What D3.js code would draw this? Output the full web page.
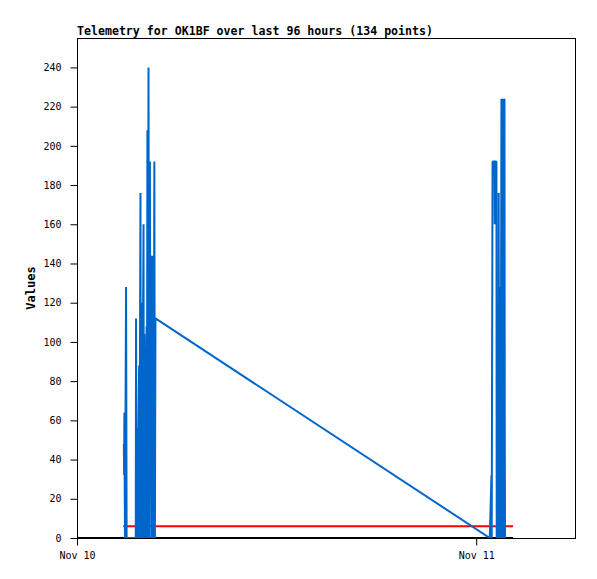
<!DOCTYPE html>
<html>
<head>
<meta charset="utf-8">
<script src="https://cdn.jsdelivr.net/npm/d3@7"></script>
<style>
body{margin:0;background:#fff;}
text{font-family:"DejaVu Sans Mono",monospace;}
</style>
</head>
<body>
<div id="plot"></div>
<script>
// telemetry samples, blue series (time, value)
var blueTimes = [
 "2023-11-10T02:49","2023-11-10T02:50","2023-11-10T02:51","2023-11-10T02:53","2023-11-10T02:57","2023-11-10T02:59",
 "2023-11-10T03:32","2023-11-10T03:33","2023-11-10T03:35","2023-11-10T03:37","2023-11-10T03:38","2023-11-10T03:44",
 "2023-11-10T03:45","2023-11-10T03:49","2023-11-10T03:50","2023-11-10T03:52","2023-11-10T03:54","2023-11-10T04:00",
 "2023-11-10T04:01","2023-11-10T04:03","2023-11-10T04:05","2023-11-10T04:11","2023-11-10T04:12","2023-11-10T04:14",
 "2023-11-10T04:15","2023-11-10T04:18","2023-11-10T04:20","2023-11-10T04:23","2023-11-10T04:25","2023-11-10T04:26",
 "2023-11-10T04:28","2023-11-10T04:31","2023-11-10T04:32","2023-11-10T04:34","2023-11-10T04:36","2023-11-10T04:39",
 "2023-11-10T04:41","2023-11-10T04:43",
 "2023-11-11T00:49","2023-11-11T00:55","2023-11-11T00:56","2023-11-11T00:59","2023-11-11T01:06","2023-11-11T01:07",
 "2023-11-11T01:08","2023-11-11T01:13","2023-11-11T01:14","2023-11-11T01:20","2023-11-11T01:21","2023-11-11T01:23",
 "2023-11-11T01:26","2023-11-11T01:28","2023-11-11T01:31","2023-11-11T01:32","2023-11-11T01:34","2023-11-11T01:36",
 "2023-11-11T01:38","2023-11-11T01:39","2023-11-11T01:42","2023-11-11T01:43","2023-11-11T01:44"
];
var blueValues = [
 48,32,64,0,128,0,
 0,112,0,56,0,88,
 0,176,0,120,0,160,
 0,104,0,108,0,208,
 0,240,0,192,48,132,
 0,144,0,108,0,192,
 0,112,
 0,32,0,192,192,160,
 192,192,0,0,176,0,
 128,0,224,0,224,0,
 224,0,224,56,0
];
// red series (constant level)
var redTimes = ["2023-11-10T02:47","2023-11-11T02:13"];
var redValues = [6,6];
// black series (zero level)
var blackTimes = ["2023-11-10T00:00","2023-11-11T02:13"];
var blackValues = [0,0];

var xTicks = ["2023-11-10T00:00","2023-11-11T00:00"];
var xTickLabels = ["Nov 10","Nov 11"];
var yTicks = [0,20,40,60,80,100,120,140,160,180,200,220,240];

let draw=function(){
    const width = 597;
    const height = 579;
    const margin = {top: 38, right: 21, bottom: 41, left: 77};

    var parse = d3.utcParse("%Y-%m-%dT%H:%M");
    var svg = d3.select("#plot").append("svg").attr("width", width).attr("height", height);

    var xScale = d3.scaleUtc().domain([parse("2023-11-10T00:00"), parse("2023-11-11T06:00")]).range([margin.left, width-margin.right]);
    var yScale = d3.scaleLinear().domain([0, 255]).range([height-margin.bottom, margin.top]);

    svg.append("clipPath").attr("id","clip").append("rect")
        .attr("x", margin.left).attr("y", margin.top)
        .attr("width", width-margin.left-margin.right).attr("height", height-margin.top-margin.bottom);

    var line = d3.line().x(d=>xScale(d[0])).y(d=>yScale(d[1]));
    var series = [
        {t: blackTimes, v: blackValues, color: "#000000", w: 2},
        {t: redTimes, v: redValues, color: "#ff0000", w: 2},
        {t: blueTimes, v: blueValues, color: "#0066cc", w: 2}
    ];
    var g = svg.append("g").attr("clip-path","url(#clip)");
    series.forEach(s=>{
        var pts = s.t.map((t,i)=>[parse(t), s.v[i]]);
        g.append("path").attr("d", line(pts))
            .attr("fill","none").attr("stroke", s.color).attr("stroke-width", s.w)
            .attr("stroke-linejoin","bevel");
    });

    // frame
    svg.append("rect").attr("x", margin.left+0.5).attr("y", margin.top+0.5)
        .attr("width", width-margin.left-margin.right-1).attr("height", height-margin.top-margin.bottom)
        .attr("fill","none").attr("stroke","#000").attr("stroke-width",1);

    var yAxis = d3.axisLeft(yScale).tickValues(yTicks).tickSize(7).tickPadding(9).tickFormat(d3.format("d"));
    var xAxis = d3.axisBottom(xScale).tickValues(xTicks.map(parse)).tickSize(7).tickPadding(6)
        .tickFormat((d,i)=>xTickLabels[i]);
    var ya = svg.append("g").attr("transform","translate("+(margin.left+0.5)+",0)").call(yAxis);
    var xa = svg.append("g").attr("transform","translate(0,"+(height-margin.bottom+0.5)+")").call(xAxis);
    [ya, xa].forEach(a=>{
        a.select(".domain").remove();
        a.selectAll("text").attr("font-family","DejaVu Sans Mono").attr("font-size", 10).attr("fill","#000");
        a.selectAll("line").attr("stroke","#000");
    });

    svg.append("text").attr("x", margin.left).attr("y", 35)
        .attr("font-size", 12).attr("font-weight","bold").attr("textLength", 356).attr("lengthAdjust","spacingAndGlyphs")
        .text("Telemetry for OK1BF over last 96 hours (134 points)");
    svg.append("text").attr("transform","translate(35,"+((margin.top+height-margin.bottom)/2)+") rotate(-90)")
        .attr("text-anchor","middle").attr("font-size", 12).attr("font-weight","bold")
        .text("Values");
}
draw();
</script>
</body>
</html>
